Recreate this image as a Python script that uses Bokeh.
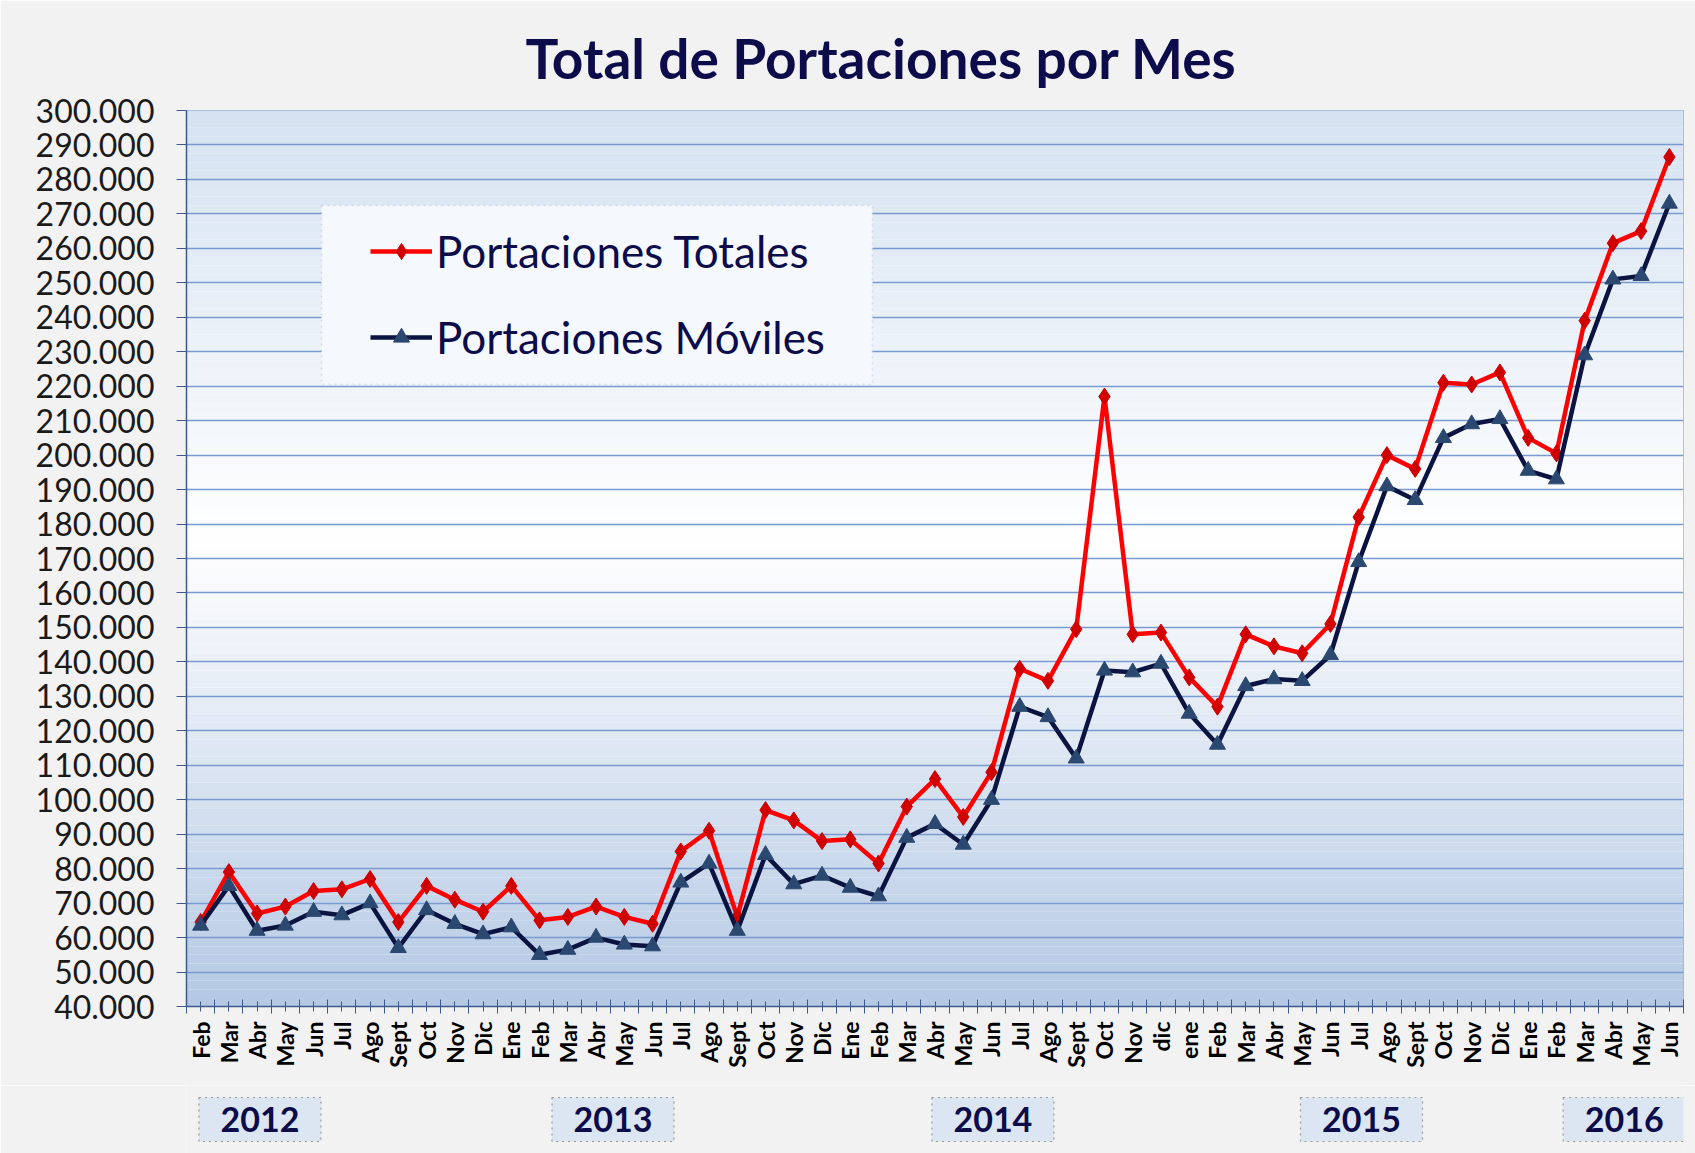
import numpy as np
from bokeh.plotting import figure
from bokeh.layouts import column
from bokeh.core.properties import value
from bokeh.models import FixedTicker, BoxAnnotation, Legend, LegendItem, Range1d
from bokeh.embed import file_html
from bokeh.resources import INLINE

# ---------------- data ----------------
months = ["Feb", "Mar", "Abr", "May", "Jun", "Jul", "Ago", "Sept", "Oct", "Nov", "Dic",
          "Ene", "Feb", "Mar", "Abr", "May", "Jun", "Jul", "Ago", "Sept", "Oct", "Nov", "Dic",
          "Ene", "Feb", "Mar", "Abr", "May", "Jun", "Jul", "Ago", "Sept", "Oct", "Nov", "dic",
          "ene", "Feb", "Mar", "Abr", "May", "Jun", "Jul", "Ago", "Sept", "Oct", "Nov", "Dic",
          "Ene", "Feb", "Mar", "Abr", "May", "Jun"]

totales = [64500, 79000, 67000, 69000, 73500, 74000, 77000, 64500, 75000, 71000, 67500,
           75000, 65000, 66000, 69000, 66000, 64000, 85000, 91000, 66000, 97000, 94000, 88000,
           88500, 81500, 98000, 106000, 95000, 108000, 138000, 134500, 149500, 217000, 148000, 148500,
           135500, 127000, 148000, 144500, 142500, 151000, 182000, 200000, 196000, 221000, 220500, 224000,
           205000, 200500, 239000, 261500, 265000, 286500]

moviles = [63500, 75000, 62000, 63500, 67500, 66500, 70000, 57000, 68000, 64000, 61000,
           63000, 55000, 56500, 60000, 58000, 57500, 76000, 81500, 62000, 84000, 75500, 78000,
           74500, 72000, 89000, 93000, 87000, 100000, 127000, 124000, 112000, 137500, 137000, 139500,
           125000, 116000, 133000, 135000, 134500, 142000, 169000, 191000, 187000, 205000, 209000, 210500,
           195500, 193000, 229000, 251000, 252000, 273000]

y_ticks = list(range(40000, 300001, 10000))
y_tick_labels = [f"{v:,}".replace(",", ".") for v in y_ticks]

years = ["2012", "2013", "2014", "2015", "2016"]
year_centers = [2.1, 14.6, 28.05, 41.1, 50.4]   # label positions (category index)

title_text = "Total de Portaciones por Mes"
series_names = ["Portaciones Totales", "Portaciones Móviles"]

# ---------------- figure ----------------
W = 1695
H_MAIN, H_STRIP = 1085, 68
n = len(months)
x = list(range(n))
FONT = "Lato"
NAVY = "#0c0c4a"
BG = "#f2f2f2"

p = figure(width=W, height=H_MAIN, output_backend="svg", toolbar_location=None,
           x_range=Range1d(-0.5, n - 0.5), y_range=Range1d(40000, 300000),
           min_border_left=186, min_border_right=12, min_border_top=110, min_border_bottom=79)
p.border_fill_color = BG
p.background_fill_color = "#ffffff"
p.outline_line_color = "#9db3d6"
p.outline_line_width = 1

p.title.text = title_text
p.title.align = "left"
p.title.text_font = FONT
p.title.text_font_style = "bold"
p.title.text_font_size = "55px"
p.title.text_color = NAVY
p.title.offset = 339
p.title.standoff = 40

# background gradient (decorative bands)
stops = [(40000, (180, 200, 228)), (175000, (255, 255, 255)), (300000, (213, 226, 241))]
def col_at(v):
    for (a, ca), (b, cb) in zip(stops[:-1], stops[1:]):
        if a <= v <= b:
            t = (v - a) / (b - a)
            c = [int(round(ca[i] + (cb[i] - ca[i]) * t)) for i in range(3)]
            return "#%02x%02x%02x" % tuple(c)
    return "#ffffff"

step = 2500
for lo in range(40000, 300000, step):
    p.add_layout(BoxAnnotation(bottom=lo, top=lo + step, fill_color=col_at(lo + step / 2),
                               fill_alpha=1.0, line_alpha=0, level="image"))

# grid
p.xgrid.visible = False
p.ygrid.ticker = FixedTicker(ticks=y_ticks)
p.ygrid.grid_line_color = "#7a9bd0"
p.ygrid.grid_line_width = 1.6

# y axis
p.yaxis.ticker = FixedTicker(ticks=y_ticks)
p.yaxis.major_label_overrides = {v: s for v, s in zip(y_ticks, y_tick_labels)}
p.yaxis.major_label_text_font = FONT
p.yaxis.major_label_text_font_size = "32px"
p.yaxis.major_label_text_color = "#1a1a1a"
p.yaxis.axis_line_color = "#3f5a8a"
p.yaxis.axis_line_width = 1.5
p.yaxis.major_tick_line_color = "#3f5a8a"
p.yaxis.major_tick_out = 10
p.yaxis.major_tick_in = 0
p.yaxis.minor_tick_line_color = None
p.yaxis.major_label_standoff = 22

# x axis
centers = [float(i) for i in x]
bounds = [i - 0.5 for i in range(n + 1)]
p.xaxis.ticker = FixedTicker(ticks=centers, minor_ticks=bounds)
p.xaxis.major_label_overrides = {float(i): m for i, m in zip(x, months)}
p.xaxis.major_label_orientation = np.pi / 2
p.xaxis.major_label_text_font = FONT
p.xaxis.major_label_text_font_style = "bold"
p.xaxis.major_label_text_font_size = "23px"
p.xaxis.major_label_text_color = "#000000"
p.xaxis.axis_line_color = "#3f5a8a"
p.xaxis.axis_line_width = 1.5
p.xaxis.major_tick_line_color = "#3f5a8a"
p.xaxis.major_tick_in = 5
p.xaxis.major_tick_out = 5
p.xaxis.minor_tick_line_color = "#3f5a8a"
p.xaxis.minor_tick_in = 7
p.xaxis.minor_tick_out = 7
p.xaxis.major_label_standoff = 8

# series
r1l = p.line(x, totales, line_color="#ff0000", line_width=4.5)
r1m = p.scatter(x, totales, marker="diamond", size=17, fill_color="#d00000",
                line_color="#d00000")
r2l = p.line(x, moviles, line_color="#0b1440", line_width=4.5)
r2m = p.scatter(x, moviles, marker="triangle", size=16, fill_color="#2b4870",
                line_color="#2b4870")

# legend frame (drawn as a box so the inner spacing can match)
p.add_layout(BoxAnnotation(left=135, right=686, bottom=622, top=801,
                           left_units="screen", right_units="screen",
                           bottom_units="screen", top_units="screen",
                           fill_color="#f5f8fc", fill_alpha=1.0,
                           line_color="#8fa6c8", line_dash="dotted", line_width=1.5))

legend = Legend(items=[LegendItem(label=series_names[0], renderers=[r1l, r1m]),
                       LegendItem(label=series_names[1], renderers=[r2l, r2m])],
                location=(184, 643), orientation="vertical")
legend.label_text_font = FONT
legend.label_text_font_size = "44px"
legend.label_text_color = NAVY
legend.glyph_width = 62
legend.glyph_height = 40
legend.label_height = 40
legend.label_standoff = 4
legend.spacing = 34
legend.padding = 10
legend.margin = 0
legend.background_fill_alpha = 0
legend.border_line_color = None
p.add_layout(legend, "center")

# year strip below the main chart
s = figure(width=W, height=H_STRIP, output_backend="svg", toolbar_location=None,
           x_range=p.x_range, y_range=Range1d(0, 1),
           x_axis_location=None, y_axis_location=None,
           min_border_left=186, min_border_right=12, min_border_top=0, min_border_bottom=0)
s.border_fill_color = BG
s.background_fill_color = BG
s.outline_line_color = None
s.grid.visible = False
s.rect(x=year_centers, y=[0.50] * len(years), width=122, height=44,
       width_units="screen", height_units="screen",
       fill_color="#dce6f2", line_color="#9a9a9a", line_dash="dotted", line_width=1.2)
s.text(x=year_centers, y=[0.50] * len(years), text=years,
       text_font=value(FONT), text_font_style="bold", text_font_size="34px",
       text_color=NAVY, text_align="center", text_baseline="middle")

layout = column(p, s, spacing=0)
open("out.html", "w").write(file_html(layout, INLINE))
